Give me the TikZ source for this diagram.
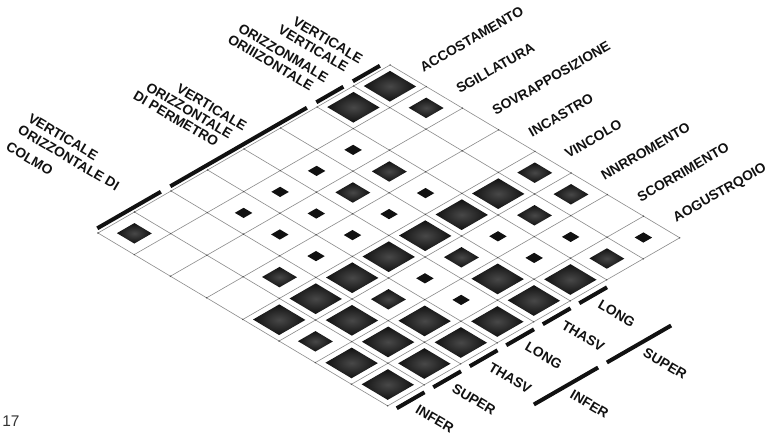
\documentclass[tikz,border=0pt]{standalone}
\usepackage{fontspec}
\setmainfont{Liberation Sans}
\definecolor{MXInk}{HTML}{111111}
\definecolor{MXRule}{HTML}{8E8E8E}
\definecolor{MXDot}{HTML}{505050}
\definecolor{MXCore}{HTML}{484848}
\definecolor{MXFig}{HTML}{333333}
\tikzset{
  rule/.style={draw=MXRule,line width=0.45pt},
  knot/.style={fill=MXDot},
  bar/.style={draw=MXInk,line width=0.1cm},
  gem/.style={inner color=MXCore,outer color=MXInk},
  chip/.style={fill=MXInk},
  tag/.style={text=MXInk,font=\fontsize{9.8}{12}\selectfont\bfseries,inner sep=0pt},
  rowtag/.style={tag,anchor=west,rotate=30},
  coltag/.style={tag,anchor=west,rotate=-30.5},
  headtag/.style={tag,anchor=east,rotate=-30.5},
}
\newcommand{\gemat}[3]{%
  (#1+0.5-#3,#2+0.5-#3) -- (#1+0.5+#3,#2+0.5-#3) -- (#1+0.5+#3,#2+0.5+#3) -- (#1+0.5-#3,#2+0.5+#3) -- cycle}
\begin{document}
\begin{tikzpicture}[x=0.025cm,y=-0.025cm]
  \useasboundingbox (0,0) rectangle (779,435);
  \node[tag,font=\fontsize{11}{13}\selectfont,text=MXFig] (fig) at (11,421) {17};

  \begin{scope}[shift={(98,233)},x={(0.9125cm,0.525cm)},y={(0.905cm,-0.54cm)}]
    % matrix lines and knots
    \foreach \i in {0,...,8}{
      \draw[rule] (\i,0) -- (\i,8);
      \draw[rule] (0,\i) -- (8,\i);
    }
    \foreach \i in {0,...,8}
      \foreach \j in {0,...,8}
        \fill[knot] (\i,\j) circle (0.55pt);

    % large marks
    \foreach \a/\b in {6/0,7/0,0/4,1/4,2/4,3/4,4/4,5/4,6/4,1/5,0/6,1/6,2/6,4/6,
                       0/7,1/7,2/7,3/7,4/7,5/7}
      \shade[gem] \gemat{\a}{\b}{0.36};
    % medium marks
    \foreach \a/\b in {0/0,7/1,4/2,5/2,1/3,7/4,0/5,2/5,4/5,6/5,7/5,6/7}
      \shade[gem] \gemat{\a}{\b}{0.24};
    % small marks
    \foreach \a/\b in {2/1,3/1,4/1,5/1,2/2,3/2,2/3,3/3,4/3,5/3,3/5,5/5,3/6,5/6,6/6,7/7}
      \fill[chip] \gemat{\a}{\b}{0.12};

    % rows
    \foreach \t [count=\b from 0] in {ACCOSTAMENTO,SGILLATURA,SOVRAPPOSIZIONE,INCASTRO,
                                      VINCOLO,NNRROMENTO,SCORRIMENTO,AOGUSTRQOIO}
      \node[rowtag] (row\b) at (8.35,\b+0.5) {\t};

    % upper columns
    \foreach \s/\e in {0.1/1.84,2.1/5.84,6.1/6.84,7.1/7.84}
      \draw[bar] (\s,-0.12) -- (\e,-0.12);
    \node[headtag] (verta) at (7.72,-0.5) {VERTICALE};
    \node[headtag] (vertb) at (7.32,-0.5) {VERTICALE};
    \node[headtag] (oriza) at (6.8,-0.53) {ORIZZONMALE};
    \node[headtag] (orizb) at (6.4,-0.53) {ORIIIZONTALE};
    \node[headtag] (perma) at (4.53,-0.49) {VERTICALE};
    \node[headtag] (permb) at (4.14,-0.49) {ORIZZONTALE};
    \node[headtag] (permc) at (3.76,-0.49) {DI PERMETRO};
    \node[coltag] (colma) at (1.755,-3.67) {VERTICALE};
    \node[coltag] (colmb) at (1.34,-3.53) {ORIZZONTALE DI};
    \node[coltag] (colmc) at (0.78,-3.29) {COLMO};

    % lower columns
    \foreach \a/\t in {0/INFER,1/SUPER,2/THASV,3/LONG,4/THASV,5/LONG}{
      \draw[bar] (\a+0.07,8.18) -- (\a+0.83,8.18);
      \node[coltag] (low\a) at (\a+0.35,8.45) {\t};
    }
    \draw[bar] (2.07,9.95) -- (3.83,9.95);
    \node[coltag] (infer) at (2.85,10.2) {INFER};
    \draw[bar] (4.07,9.95) -- (5.83,9.95);
    \node[coltag] (super) at (4.85,10.2) {SUPER};
  \end{scope}
\end{tikzpicture}
\end{document}
